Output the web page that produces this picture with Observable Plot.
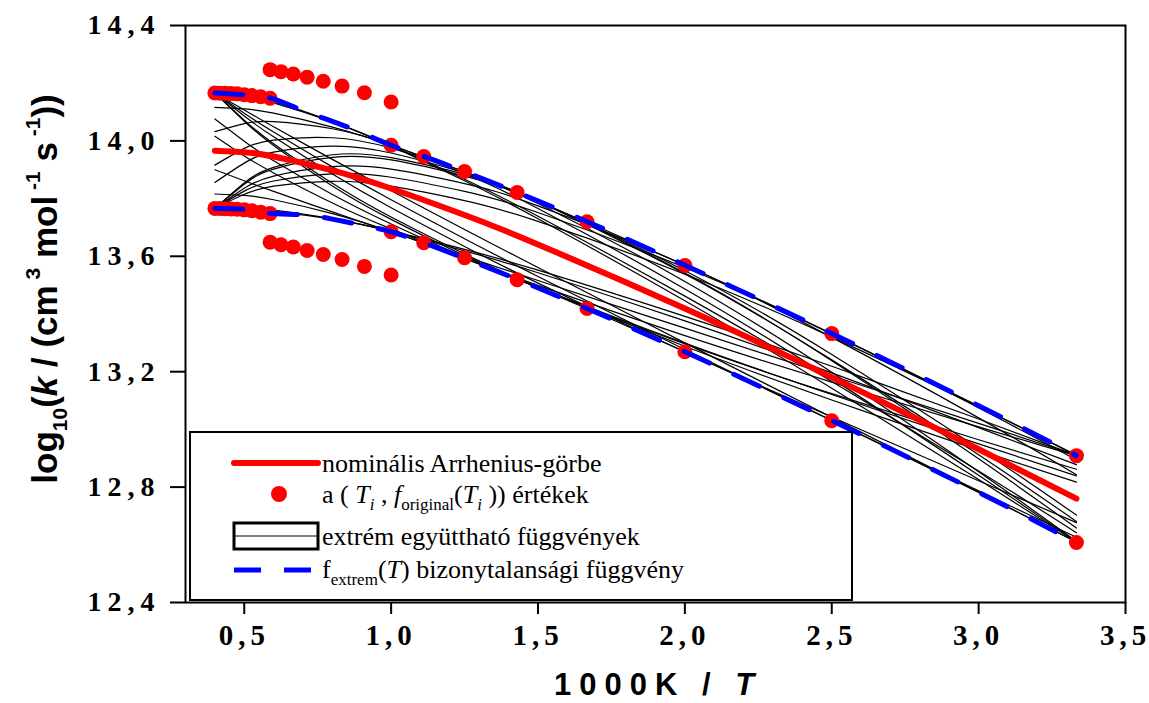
<!DOCTYPE html>
<html>
<head>
<meta charset="utf-8">
<script src="https://cdn.jsdelivr.net/npm/d3@7"></script>
<script src="https://cdn.jsdelivr.net/npm/@observablehq/plot@0.6"></script>
<style>
  html, body { margin: 0; padding: 0; background: #fff; }
  #chart { width: 1149px; height: 703px; position: relative; }
</style>
</head>
<body>
<div id="chart"></div>
<script>
// ---------- data ----------
const xTicks = [0.5, 1.0, 1.5, 2.0, 2.5, 3.0, 3.5];
const yTicks = [12.4, 12.8, 13.2, 13.6, 14.0, 14.4];

// sample positions (1000K/T) for the smooth curves
const curveX = [0.4, 0.5, 0.6, 0.8, 1.0, 1.25, 1.5, 2.0, 2.5, 3.0, 3.333];

// nominal Arrhenius curve
const nominalY = [13.966, 13.961, 13.946, 13.898, 13.835, 13.743, 13.641, 13.419, 13.181, 12.931, 12.760];

// extreme coefficient functions (thin black curves)
const extremeCurves = [
  [14.166, 14.155, 14.132, 14.066, 13.982, 13.862, 13.730, 13.446, 13.143, 12.826, 12.610],
  [13.766, 13.767, 13.760, 13.730, 13.688, 13.624, 13.552, 13.392, 13.219, 13.036, 12.910],
  [14.166, 14.157, 14.136, 14.067, 13.984, 13.867, 13.739, 13.462, 13.166, 12.856, 12.642],
  [13.766, 13.765, 13.756, 13.729, 13.686, 13.619, 13.543, 13.376, 13.196, 13.006, 12.878],
  [14.032, 14.060, 14.067, 14.042, 13.985, 13.886, 13.766, 13.487, 13.176, 12.841, 12.610],
  [13.900, 13.862, 13.825, 13.754, 13.685, 13.600, 13.516, 13.351, 13.186, 13.021, 12.910],
  [13.916, 13.974, 14.003, 14.011, 13.975, 13.893, 13.783, 13.513, 13.198, 12.853, 12.612],
  [14.016, 13.948, 13.889, 13.785, 13.695, 13.593, 13.499, 13.325, 13.164, 13.009, 12.908],
  [13.856, 13.923, 13.961, 13.982, 13.958, 13.889, 13.790, 13.539, 13.241, 12.912, 12.681],
  [14.076, 13.999, 13.931, 13.814, 13.712, 13.597, 13.492, 13.299, 13.121, 12.950, 12.839],
  [13.766, 13.854, 13.908, 13.952, 13.942, 13.884, 13.791, 13.542, 13.238, 12.898, 12.658],
  [14.166, 14.068, 13.984, 13.844, 13.728, 13.602, 13.491, 13.296, 13.124, 12.964, 12.862],
  [13.766, 13.850, 13.902, 13.943, 13.934, 13.878, 13.789, 13.550, 13.260, 12.934, 12.703],
  [14.166, 14.072, 13.990, 13.853, 13.736, 13.608, 13.493, 13.288, 13.102, 12.928, 12.817],
  [13.766, 13.836, 13.878, 13.911, 13.902, 13.852, 13.775, 13.569, 13.319, 13.040, 12.843],
  [14.166, 14.086, 14.014, 13.885, 13.768, 13.634, 13.507, 13.269, 13.043, 12.822, 12.677],
  [13.766, 13.826, 13.861, 13.886, 13.874, 13.825, 13.752, 13.561, 13.331, 13.075, 12.894],
  [14.166, 14.096, 14.031, 13.910, 13.796, 13.661, 13.530, 13.277, 13.031, 12.787, 12.626],
  [13.766, 13.815, 13.843, 13.860, 13.843, 13.793, 13.721, 13.538, 13.320, 13.079, 12.910],
  [14.166, 14.107, 14.049, 13.936, 13.827, 13.693, 13.561, 13.300, 13.042, 12.783, 12.610],
  [14.116, 14.111, 14.096, 14.048, 13.985, 13.893, 13.791, 13.569, 13.331, 13.081, 12.910],
  [13.816, 13.811, 13.796, 13.748, 13.685, 13.593, 13.491, 13.269, 13.031, 12.781, 12.610]
];

// f_extrem(T) uncertainty envelope (blue dashed)
const envX     = [0.4, 0.5, 0.588, 0.7, 0.8, 0.9, 1.0, 1.111, 1.25, 1.429, 1.667, 2.0, 2.5, 3.0, 3.333];
const envUpper = [14.166, 14.160, 14.149, 14.105, 14.068, 14.028, 13.985, 13.946, 13.893, 13.821, 13.720, 13.569, 13.332, 13.082, 12.909];
const envLower = [13.766, 13.763, 13.749, 13.744, 13.729, 13.708, 13.685, 13.647, 13.593, 13.520, 13.419, 13.269, 13.031, 12.782, 12.608];

// (T_i, f_original(T_i)) points (red dots)
const dotX = [0.4, 0.417, 0.435, 0.455, 0.476, 0.5, 0.526, 0.556, 0.588,
              0.588, 0.625, 0.667, 0.714, 0.769, 0.833, 0.909, 1.0,
              1.0, 1.111, 1.25, 1.429, 1.667, 2.0, 2.5, 3.333];
const dotUpper = [14.166, 14.165, 14.165, 14.164, 14.163, 14.160, 14.157, 14.153, 14.148,
                  14.247, 14.240, 14.232, 14.221, 14.207, 14.190, 14.167, 14.135,
                  13.985, 13.946, 13.894, 13.821, 13.720, 13.568, 13.332, 12.909];
const dotLower = [13.766, 13.766, 13.765, 13.764, 13.763, 13.761, 13.758, 13.753, 13.748,
                  13.649, 13.640, 13.632, 13.620, 13.606, 13.589, 13.565, 13.535,
                  13.685, 13.647, 13.595, 13.519, 13.419, 13.269, 13.030, 12.608];

// ---------- build tables ----------
const curveRows = extremeCurves.flatMap((ys, k) => ys.map((y, i) => ({x: curveX[i], y, k})));
const nominalRows = curveX.map((x, i) => ({x, y: nominalY[i]}));
const envRows = [
  ...envX.map((x, i) => ({x, y: envUpper[i], s: "up"})),
  ...envX.map((x, i) => ({x, y: envLower[i], s: "low"}))
];
const dotRows = [
  ...dotX.map((x, i) => ({x, y: dotUpper[i]})),
  ...dotX.map((x, i) => ({x, y: dotLower[i]}))
];

const fmt = d => d.toFixed(1).replace(".", ",");

const plot = Plot.plot({
  width: 1149,
  height: 703,
  marginLeft: 185,
  marginRight: 24,
  marginTop: 25,
  marginBottom: 101,
  style: {background: "#fff", color: "#000", overflow: "visible"},
  x: {domain: [0.3, 3.5], ticks: xTicks, tickSize: 12, tickPadding: 10, tickFormat: fmt, label: null},
  y: {domain: [12.4, 14.4], ticks: yTicks, tickSize: 15, tickPadding: 10, tickFormat: fmt, label: null},
  marks: [
    Plot.line(curveRows, {x: "x", y: "y", z: "k", stroke: "#000", strokeWidth: 1.2, curve: "natural"}),
    Plot.line(nominalRows, {x: "x", y: "y", stroke: "#ff0000", strokeWidth: 6, curve: "natural", strokeLinecap: "round"}),
    Plot.dot(dotRows, {x: "x", y: "y", r: 7.5, fill: "#ff0000", stroke: "none"}),
    Plot.line(envRows, {x: "x", y: "y", z: "s", stroke: "#0000ff", strokeWidth: 5, strokeDasharray: "28,27", curve: "natural"}),
    Plot.frame({stroke: "#000", strokeWidth: 2})
  ]
});

document.getElementById("chart").appendChild(plot);
const svg = d3.select(plot);

// tick label styling
svg.selectAll('[aria-label^="x-axis"] text')
  .attr("font-family", "'Liberation Serif', 'Times New Roman', serif")
  .attr("font-weight", "bold")
  .attr("font-size", 29)
  .style("letter-spacing", "5px");
svg.selectAll('[aria-label^="y-axis"] text')
  .attr("font-family", "'Liberation Serif', 'Times New Roman', serif")
  .attr("font-weight", "bold")
  .attr("font-size", 28)
  .style("letter-spacing", "6px");
svg.selectAll('[aria-label^="x-axis"] path, [aria-label^="y-axis"] path, [aria-label^="x-axis"] line, [aria-label^="y-axis"] line')
  .attr("stroke-width", 2);

// axis titles
const sans = "'Liberation Sans', Arial, sans-serif";
const serif = "'Liberation Serif', 'Times New Roman', serif";

const xt = svg.append("text")
  .attr("x", 658).attr("y", 695)
  .attr("text-anchor", "middle")
  .attr("font-family", sans).attr("font-weight", "bold").attr("font-size", 31)
  .style("letter-spacing", "8px");
xt.append("tspan").text("1000K / ");
xt.append("tspan").attr("font-style", "italic").text("T");

const yt = svg.append("text")
  .attr("transform", "translate(57,289) rotate(-90)")
  .attr("text-anchor", "middle")
  .attr("font-family", sans).attr("font-weight", "bold").attr("font-size", 35);
yt.append("tspan").text("log");
yt.append("tspan").attr("font-size", 21).attr("dy", 10).text("10");
yt.append("tspan").attr("dy", -10).text("(");
yt.append("tspan").attr("font-style", "italic").text("k");
yt.append("tspan").text(" / (cm");
yt.append("tspan").attr("font-size", 21).attr("dy", -17).text(" 3");
yt.append("tspan").attr("dy", 17).text(" mol");
yt.append("tspan").attr("font-size", 21).attr("dy", -17).text(" -1");
yt.append("tspan").attr("dy", 17).text(" s");
yt.append("tspan").attr("font-size", 21).attr("dy", -17).text(" -1");
yt.append("tspan").attr("dy", 17).text("))");

// legend
const lg = svg.append("g").attr("text-anchor", "start");
lg.append("rect").attr("x", 190).attr("y", 432).attr("width", 662).attr("height", 168)
  .attr("fill", "#fff").attr("stroke", "#000").attr("stroke-width", 2);
lg.append("line").attr("x1", 234).attr("x2", 318).attr("y1", 463).attr("y2", 463)
  .attr("stroke", "#ff0000").attr("stroke-width", 6).attr("stroke-linecap", "round");
lg.append("circle").attr("cx", 279).attr("cy", 494).attr("r", 8).attr("fill", "#ff0000");
lg.append("rect").attr("x", 234).attr("y", 523).attr("width", 84).attr("height", 26)
  .attr("fill", "#fff").attr("stroke", "#000").attr("stroke-width", 3);
lg.append("line").attr("x1", 234).attr("x2", 318).attr("y1", 536).attr("y2", 536)
  .attr("stroke", "#000").attr("stroke-width", 1);
lg.append("line").attr("x1", 234).attr("x2", 318).attr("y1", 570).attr("y2", 570)
  .attr("stroke", "#0000ff").attr("stroke-width", 5).attr("stroke-dasharray", "27,23");

function ltext(y) {
  return lg.append("text").attr("x", 322).attr("y", y).attr("text-anchor", "start")
    .attr("font-family", serif).attr("font-size", 26).attr("fill", "#000");
}
ltext(472).text("nominális Arrhenius-görbe");
const t2 = ltext(503);
t2.append("tspan").text("a ( ");
t2.append("tspan").attr("font-style", "italic").text("T");
t2.append("tspan").attr("font-style", "italic").attr("font-size", 17).attr("dy", 7).text("i");
t2.append("tspan").attr("dy", -7).text(" , ");
t2.append("tspan").attr("font-style", "italic").text("f");
t2.append("tspan").attr("font-size", 17).attr("dy", 7).text("original");
t2.append("tspan").attr("dy", -7).text("(");
t2.append("tspan").attr("font-style", "italic").text("T");
t2.append("tspan").attr("font-style", "italic").attr("font-size", 17).attr("dy", 7).text("i");
t2.append("tspan").attr("dy", -7).text(" )) értékek");
ltext(545).text("extrém együttható függvények");
const t4 = ltext(578);
t4.append("tspan").text("f");
t4.append("tspan").attr("font-size", 17).attr("dy", 7).text("extrem");
t4.append("tspan").attr("dy", -7).text("(");
t4.append("tspan").attr("font-style", "italic").text("T");
t4.append("tspan").text(") bizonytalansági függvény");
</script>
</body>
</html>
